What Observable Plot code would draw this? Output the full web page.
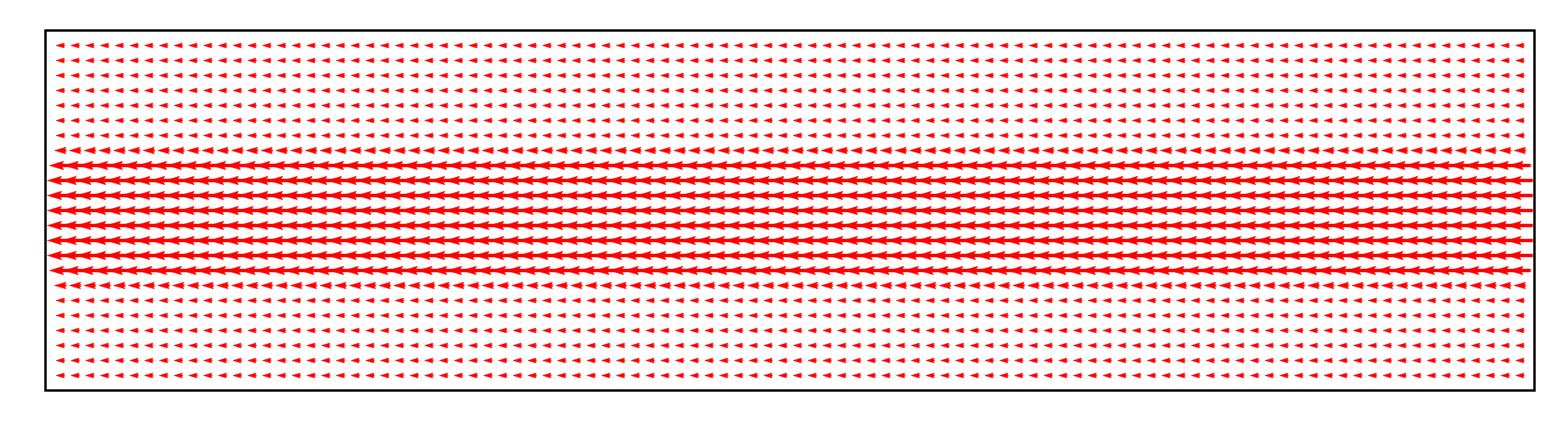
<!DOCTYPE html>
<html><head><meta charset="utf-8">
<script src="https://cdn.jsdelivr.net/npm/d3@7"></script>
<script src="https://cdn.jsdelivr.net/npm/@observablehq/plot@0.6"></script>
<style>body{margin:0;background:#fff}</style>
</head><body><div id="chart"></div>
<script>
// grid of the quiver field (column index, row index from top)
const columns = d3.range(100);
const rows = d3.range(23);
// speed of the flow in each row (top to bottom), relative to the core jet; all arrows point in -x
const rowSpeed = [0.32, 0.32, 0.32, 0.32, 0.32, 0.32, 0.33, 0.44, 0.84, 1, 1, 1, 1, 1, 1, 0.84, 0.44, 0.33, 0.32, 0.32, 0.32, 0.32, 0.32];
const directionDeg = -90; // pointing to the left

const data = rows.flatMap(r => columns.map(c => ({x: c, y: r, speed: rowSpeed[r]})));

// matplotlib-like filled quiver arrow
const W = 2.8;
const quiverShape = {
  draw(context, l) {
    const hl = 5 * W, hal = 4.5 * W, hw = 3 * W, minsh = 5 * W;
    let s = 1, L = l;
    if (l < minsh) { s = l / minsh; L = minsh; }
    const pts = [[W/2, 0], [W/2, L - hal], [hw/2, L - hl], [0, L], [-hw/2, L - hl], [-W/2, L - hal], [-W/2, 0]];
    pts.forEach(([p, a], i) => {
      const X = p * s, Y = -a * s;
      if (i === 0) context.moveTo(X, Y); else context.lineTo(X, Y);
    });
    context.closePath();
  }
};

const chart = Plot.plot({
  width: 1562,
  height: 435,
  marginLeft: 45,
  marginRight: 28,
  marginTop: 30,
  marginBottom: 45,
  x: {domain: [-1, 100], axis: null},
  y: {domain: [-1, 23], reverse: true, axis: null},
  length: {type: "linear", domain: [0, 1], range: [0, 25.5]},
  marks: [
    Plot.vector(data, {x: "x", y: "y", length: "speed", rotate: directionDeg, anchor: "middle",
      shape: quiverShape, fill: "red", stroke: "red", strokeWidth: 0.5, strokeLinejoin: "miter"}),
    Plot.frame({stroke: "black", strokeWidth: 2.4})
  ]
});
document.getElementById("chart").appendChild(chart);
</script>
</body></html>
